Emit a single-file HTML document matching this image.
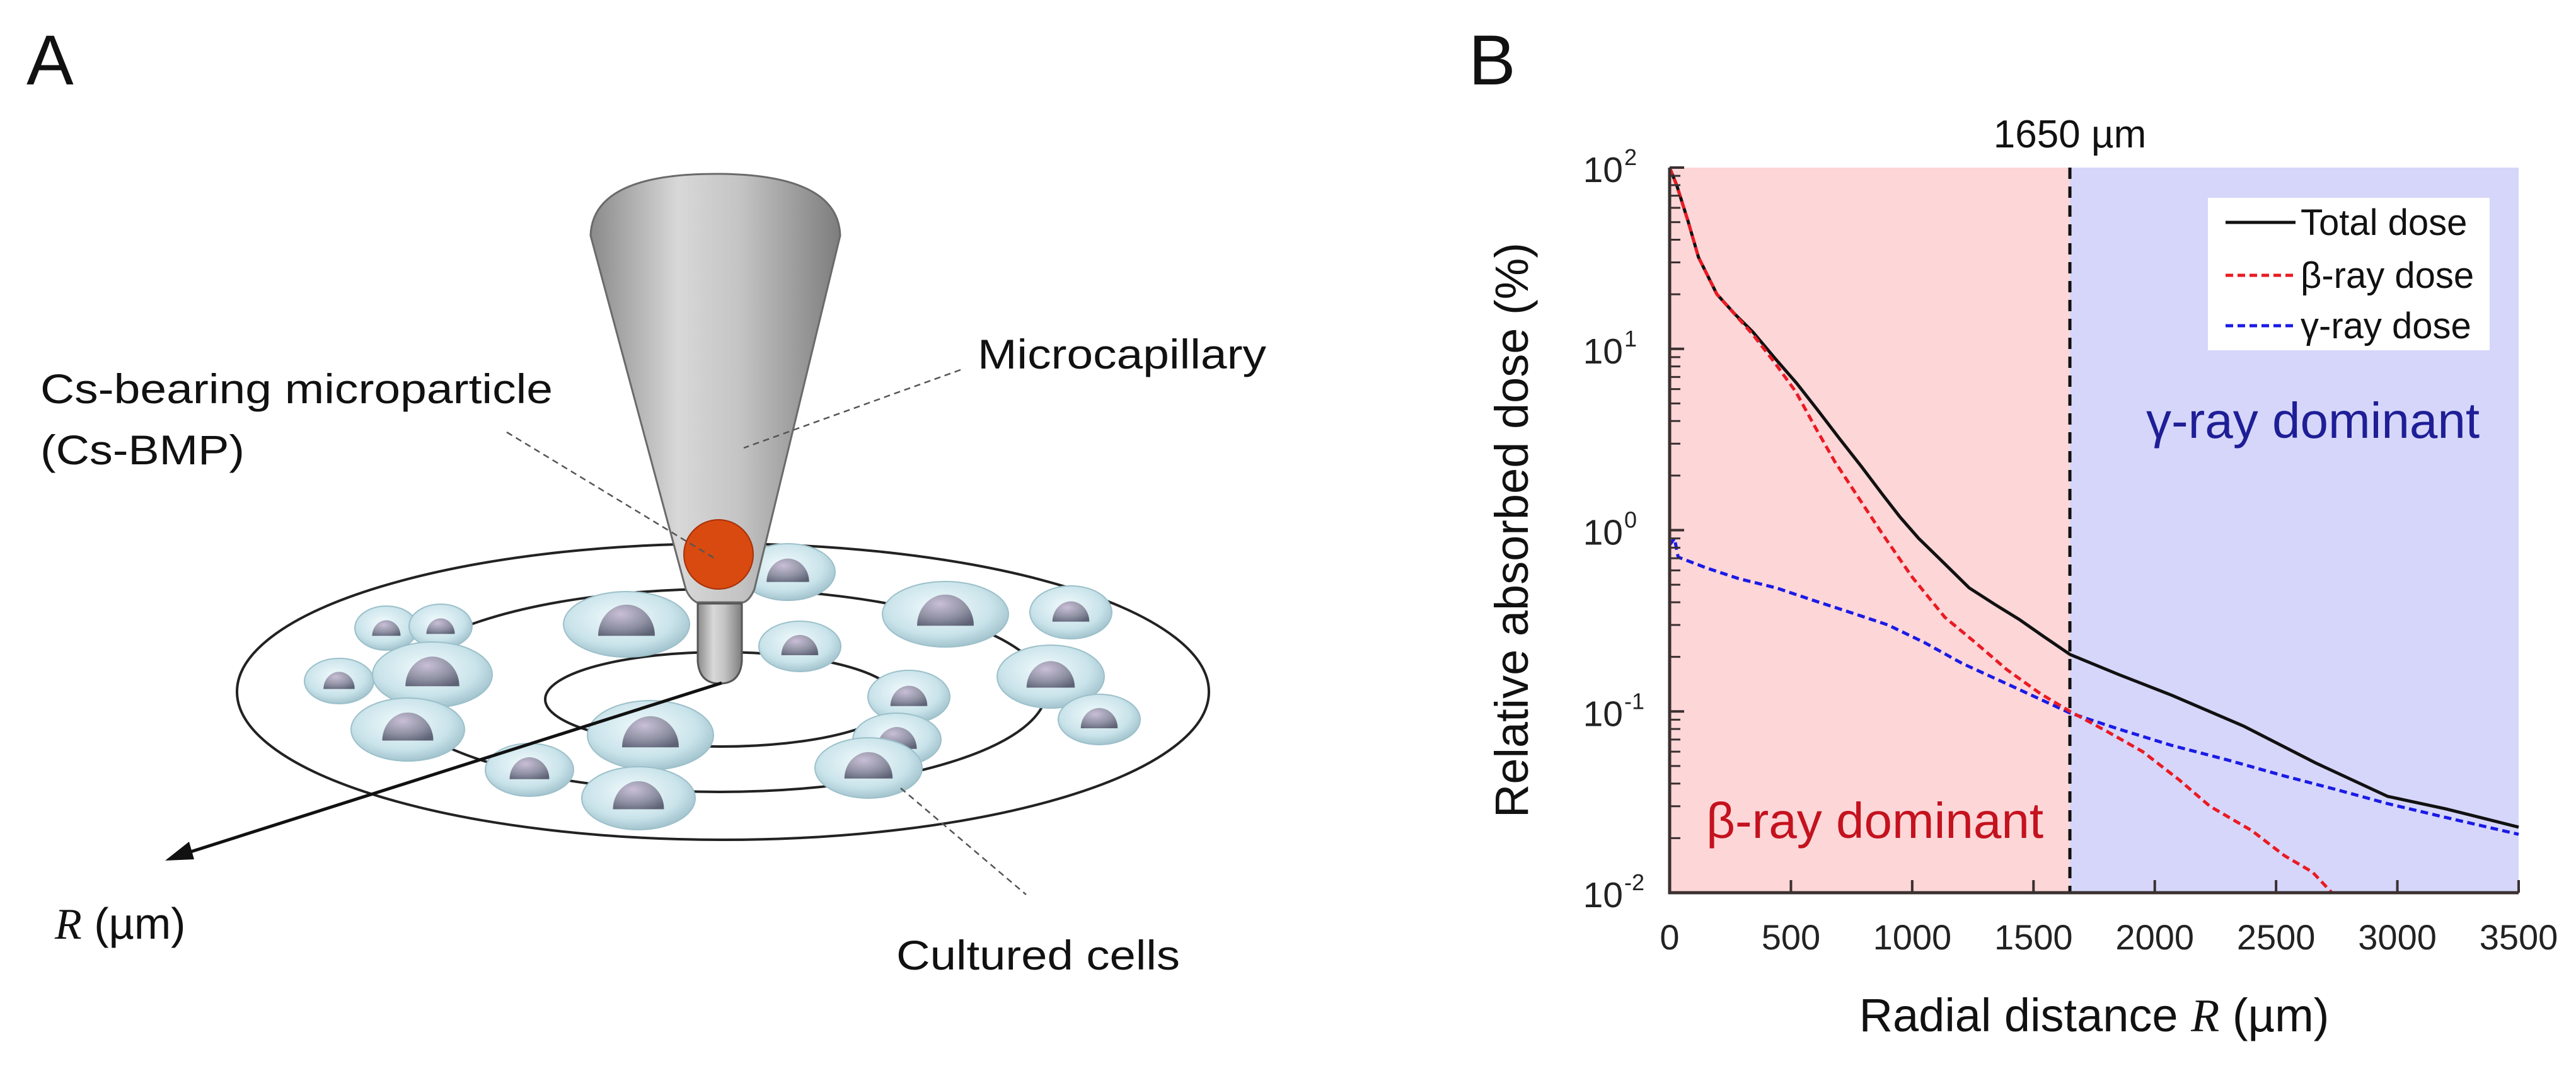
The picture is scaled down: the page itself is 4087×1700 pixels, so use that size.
<!DOCTYPE html>
<html><head><meta charset="utf-8">
<style>
html,body{margin:0;padding:0;background:#fff;}
svg{display:block;font-family:"Liberation Sans",Arial,sans-serif;}
</style></head>
<body>
<svg id="fig" width="4087" height="1700" viewBox="0 0 4087 1700" xmlns="http://www.w3.org/2000/svg">
<defs>
  <linearGradient id="coneG" x1="0" x2="1" y1="0" y2="0">
    <stop offset="0" stop-color="#8a8a8a"/><stop offset="0.35" stop-color="#d8d8d8"/><stop offset="0.6" stop-color="#c4c4c4"/><stop offset="1" stop-color="#7d7d7d"/>
  </linearGradient>
  <radialGradient id="cellG" cx="0.45" cy="0.4" r="0.7">
    <stop offset="0" stop-color="#f2fbfd"/><stop offset="0.6" stop-color="#c9e3ea"/><stop offset="1" stop-color="#8fb3bf"/>
  </radialGradient>
  <radialGradient id="nucG" cx="0.4" cy="0.3" r="0.8">
    <stop offset="0" stop-color="#c9bfd6"/><stop offset="0.6" stop-color="#8e90a2"/><stop offset="1" stop-color="#5d6274"/>
  </radialGradient>
</defs>

<!-- Panel A -->
<g>
  <text x="42" y="134" font-size="112" fill="#111">A</text>
  <ellipse cx="1147" cy="1098" rx="771" ry="235" fill="none" stroke="#222" stroke-width="4"/>
  <ellipse cx="1141" cy="1096" rx="519" ry="161" fill="none" stroke="#222" stroke-width="4"/>
  <ellipse cx="1144" cy="1110" rx="279" ry="75" fill="none" stroke="#222" stroke-width="4"/>
  <g id="cells"></g>
  <path d="M937,374 Q940,276 1135,276 Q1330,276 1333,374 L1197,935 Q1190,952 1180,956 L1105,956 Q1094,950 1088,935 Z" fill="url(#coneG)" stroke="#6a6a6a" stroke-width="3"/>
  <path d="M1107,958 L1107,1050 Q1110,1085 1142,1085 Q1174,1085 1177,1050 L1177,958 Z" fill="url(#coneG)" stroke="#555" stroke-width="3"/>
  <circle cx="1140" cy="880" r="55" fill="#d84a10" stroke="#a83008" stroke-width="2"/>
  <line x1="1145" y1="1084" x2="290" y2="1356" stroke="#111" stroke-width="5"/>
  <polygon points="262,1366 300,1336 308,1364" fill="#111"/>
  <line x1="804" y1="686" x2="1135" y2="887" stroke="#555" stroke-width="2.5" stroke-dasharray="10,7"/>
  <line x1="1524" y1="587" x2="1180" y2="711" stroke="#555" stroke-width="2.5" stroke-dasharray="10,7"/>
  <line x1="1429" y1="1251" x2="1628" y2="1420" stroke="#555" stroke-width="2.5" stroke-dasharray="10,7"/>
  <text x="1551" y="585" font-size="66" fill="#111" textLength="458" lengthAdjust="spacingAndGlyphs">Microcapillary</text>
  <text x="64" y="640" font-size="66" fill="#111" textLength="813" lengthAdjust="spacingAndGlyphs">Cs-bearing microparticle</text>
  <text x="64" y="737" font-size="66" fill="#111" textLength="324" lengthAdjust="spacingAndGlyphs">(Cs-BMP)</text>
  <text x="87" y="1490" font-size="70" fill="#111"><tspan font-family="Liberation Serif, serif" font-style="italic">R</tspan> (µm)</text>
  <text x="1422" y="1539" font-size="66" fill="#111" textLength="450" lengthAdjust="spacingAndGlyphs">Cultured cells</text>
</g>

<!-- Panel B -->
<g id="panelB">
  <text x="2330" y="134" font-size="112" fill="#111">B</text>
</g>
</svg>

<script>
const cellList = [[613,997,50,35],[699,994,50,35],[994,991,100,52],[1250,908,75,45],[1500,975,100,52],[1699,972,65,42],[1269,1026,65,40],[538,1081,55,36],[686,1071,95,52],[1667,1074,85,50],[1744,1142,65,40],[1442,1106,65,42],[647,1158,90,50],[1032,1167,100,55],[1423,1174,70,42],[1378,1219,85,48],[840,1222,70,42],[1013,1267,90,50]];
const cg = document.getElementById('cells');
const NS = 'http://www.w3.org/2000/svg';
cellList.forEach(c => {
  const e = document.createElementNS(NS,'ellipse');
  e.setAttribute('cx',c[0]); e.setAttribute('cy',c[1]); e.setAttribute('rx',c[2]); e.setAttribute('ry',c[3]);
  e.setAttribute('fill','url(#cellG)'); e.setAttribute('stroke','#9cc0ca'); e.setAttribute('stroke-width','2');
  
  
  cg.appendChild(e);
  const n = document.createElementNS(NS,'path');
  const r = c[2]*0.45, cy = c[1]+c[3]*0.35;
  n.setAttribute('d',`M${c[0]-r},${cy} A${r},${r*1.1} 0 0 1 ${c[0]+r},${cy} Z`);
  n.setAttribute('fill','url(#nucG)');
  
  
  cg.appendChild(n);
});

// ---- Panel B chart data ----
const xTicks = [0,500,1000,1500,2000,2500,3000,3500];
const yDecades = [-2,-1,0,1,2];
const thresholdR = 1650;
const totalR = [0,29,75,119,195,270,343,430,522,610,700,790,878,950,1027,1130,1235,1340,1444,1540,1651,1850,2069,2366,2663,2960,3200,3500];
const totalV = [100,80,51,32,20,15.5,12.4,9,6.5,4.6,3.2,2.25,1.57,1.18,0.9,0.66,0.48,0.39,0.32,0.26,0.206,0.16,0.123,0.083,0.052,0.034,0.029,0.023];
const betaR = [0,29,75,119,195,343,430,520,600,680,780,878,1000,1135,1260,1390,1530,1651,1800,1950,2100,2227,2400,2535,2650,2730];
const betaV = [100,80,51,32,20,12,8.5,5.8,3.7,2.4,1.5,0.95,0.55,0.33,0.24,0.17,0.125,0.1,0.078,0.06,0.042,0.03,0.022,0.016,0.013,0.01];
const gammaR = [0,20,35,150,285,440,592,750,900,1050,1206,1400,1651,1850,2069,2300,2535,2750,2960,3200,3500];
const gammaV = [0.83,0.9,0.71,0.62,0.54,0.48,0.41,0.35,0.30,0.24,0.184,0.14,0.098,0.08,0.065,0.054,0.044,0.037,0.031,0.026,0.021];

const L=2649, R=3996, T=266, B=1417;
const X = v => L + v/3500*(R-L);
const Y = v => T + (2 - Math.log10(v))/4*(B-T);
const pb = document.getElementById('panelB');
function mk(tag, attrs, parent){
  const el = document.createElementNS(NS, tag);
  for (const k in attrs) el.setAttribute(k, attrs[k]);
  (parent||pb).appendChild(el);
  return el;
}
const bgPink = mk('rect',{x:L,y:T,width:X(thresholdR)-L,height:B-T,fill:'#fdd6d8'});


const bgBlue = mk('rect',{x:X(thresholdR),y:T,width:R-X(thresholdR),height:B-T,fill:'#d6d6fa'});



function line(xs, vs, color, dash, name){
  const d = xs.map((x,i)=>(i?'L':'M')+X(x).toFixed(1)+','+Y(vs[i]).toFixed(1)).join(' ');
  const p = mk('path',{d:d,fill:'none',stroke:color,'stroke-width':5,'stroke-dasharray':dash,'stroke-linejoin':'round'});
  
  
}
line(gammaR, gammaV, '#1a1ae6', '12,7', 'gamma-dose-line');
line(totalR, totalV, '#111', 'none', 'total-dose-line');
line(betaR, betaV, '#ea1a22', '12,7', 'beta-dose-line');

const th = mk('line',{x1:X(thresholdR),x2:X(thresholdR),y1:T,y2:B,stroke:'#111','stroke-width':5,'stroke-dasharray':'18,12'});


const thl = mk('text',{x:X(thresholdR),y:234,'font-size':62,'text-anchor':'middle',fill:'#111'});
thl.textContent = thresholdR + ' µm';



const ax = mk('path',{d:`M${L},${T} L${L},${B} L${R},${B}`,fill:'none',stroke:'#3a3030','stroke-width':5});


xTicks.forEach(v=>{
  const t = mk('line',{x1:X(v),x2:X(v),y1:B,y2:B-20,stroke:'#3a3030','stroke-width':4});
  
  
  const lb = mk('text',{x:X(v),y:1507,'font-size':56,'text-anchor':'middle',fill:'#222'});
  lb.textContent = v;
  
  
});
yDecades.forEach(dv=>{
  const yy = Y(Math.pow(10,dv));
  const t = mk('line',{x1:L,x2:L+23,y1:yy,y2:yy,stroke:'#3a3030','stroke-width':4});
  
  
  const lb = mk('text',{x:2575,y:yy+23,'font-size':57,'text-anchor':'end',fill:'#222'});
  lb.textContent = '10';
  
  
  const sp = mk('text',{x:2577,y:yy-4,'font-size':36,fill:'#222'});
  sp.textContent = String(dv);
  
  
  if (dv < 2) {
    for (let m=2;m<=9;m++){
      const my = Y(m*Math.pow(10,dv));
      const mt = mk('line',{x1:L,x2:L+17,y1:my,y2:my,stroke:'#3a3030','stroke-width':3});
      
      
    }
  }
});
const xt = mk('text',{x:(L+R)/2,y:1637,'font-size':74,'text-anchor':'middle',fill:'#111'});
xt.innerHTML = 'Radial distance <tspan font-family="Liberation Serif, serif" font-style="italic">R</tspan> (µm)';


const yt = mk('text',{x:0,y:0,'font-size':74,'text-anchor':'middle',fill:'#111',transform:`translate(2424,${(T+B)/2}) rotate(-90)`});
yt.textContent = 'Relative absorbed dose (%)';


const bl = mk('text',{x:2707,y:1330,'font-size':80,fill:'#c4121e'});
bl.textContent = 'β-ray dominant';


const gl = mk('text',{x:3405,y:695,'font-size':80,fill:'#1e1e96'});
gl.textContent = 'γ-ray dominant';


const lg = mk('g',{});


mk('rect',{x:3503,y:314,width:447,height:242,fill:'#fff'},lg);
const legItems = [['Total dose','#111','none',373],['β-ray dose','#ea1a22','12,7',457],['γ-ray dose','#1a1ae6','12,7',537]];
legItems.forEach(it=>{
  const g = mk('g',{},lg);
  
  
  mk('line',{x1:3531,x2:3642,y1:it[3]-20,y2:it[3]-20,stroke:it[1],'stroke-width':5,'stroke-dasharray':it[2]},g);
  const t = mk('text',{x:3650,y:it[3],'font-size':58,fill:'#111'},g);
  t.textContent = it[0];
});
</script>
</body></html>
